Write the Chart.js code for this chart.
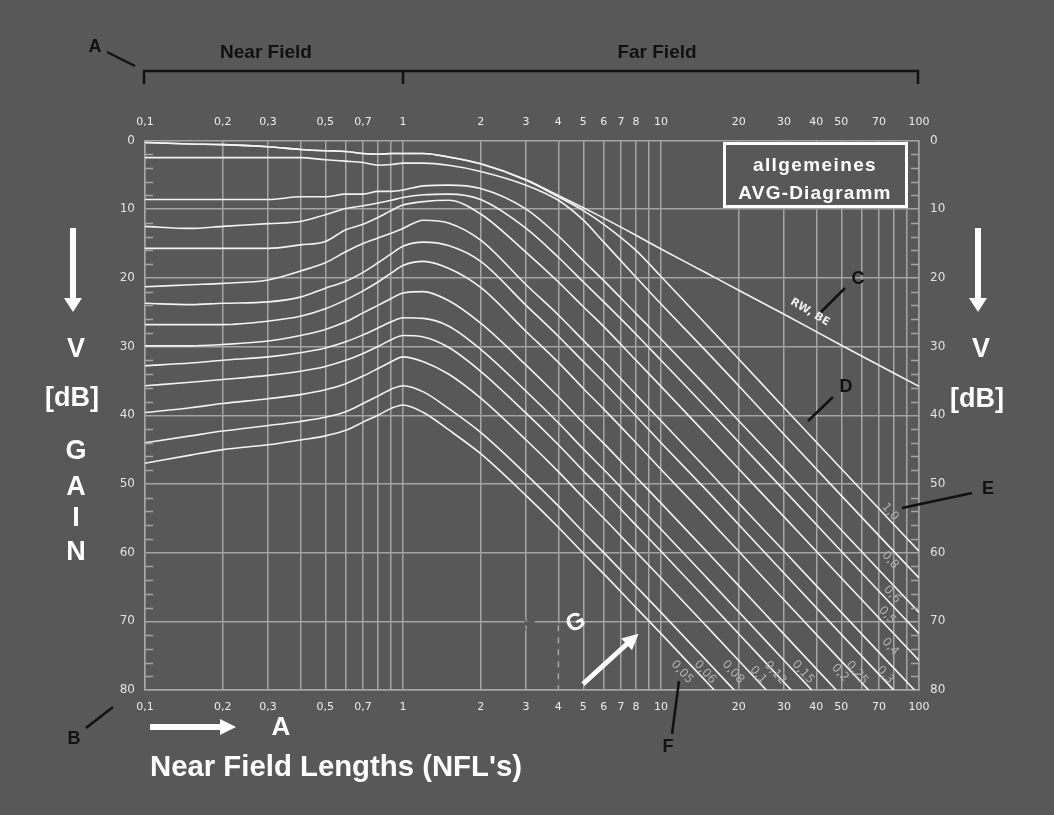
<!DOCTYPE html>
<html><head><meta charset="utf-8">
<script src="https://cdn.jsdelivr.net/npm/chart.js@4/dist/chart.umd.min.js"></script>
<style>html,body{margin:0;padding:0;background:#585858;overflow:hidden}canvas{display:block}</style>
</head><body>
<canvas id="c" width="1054" height="815"></canvas>
<script>
// Distance in near field lengths (NFL's)
const NFL = [0.1,0.15,0.2,0.3,0.4,0.5,0.6,0.7,0.8,0.9,1,1.2,1.5,2,3,4,5,6,8,10,15,20,30,50,100];
// Gain V [dB], one array per curve
const RW_BE = [0.3,0.5,0.6,0.9,1.3,1.5,1.6,1.9,2.0,1.9,1.9,1.9,2.4,3.4,5.7,8.0,9.8,11.3,13.8,15.8,19.3,21.8,25.3,29.8,35.8];
const G_1_0  = [0.3,0.5,0.6,0.9,1.3,1.5,1.6,1.9,2.0,1.9,1.9,1.9,2.4,3.4,5.8,8.2,10.2,12.2,16.0,19.8,26.8,31.8,38.9,47.8,59.8];
const G_0_8  = [2.5,2.5,2.5,2.5,2.5,2.8,3.0,3.2,3.6,3.5,3.3,3.3,3.6,4.5,6.5,8.7,11.6,14.8,19.9,23.8,30.7,35.7,42.8,51.7,63.7];
const G_0_6  = [8.6,8.6,8.6,8.6,8.2,8.2,7.8,7.8,7.4,7.4,7.2,6.6,6.5,7.0,10.0,13.9,17.5,20.4,25.2,28.9,35.8,40.8,47.8,56.7,68.7];
const G_0_5  = [12.5,12.8,12.5,12.1,11.8,10.8,9.9,9.5,9.1,8.7,8.3,7.9,7.8,8.6,12.8,17.0,20.6,23.5,28.2,32.0,38.9,43.9,50.9,59.8,71.8];
const G_0_4  = [15.7,15.7,15.7,15.7,15.2,14.7,13.0,12.2,11.2,10.2,9.4,8.9,8.7,10.7,16.3,20.6,24.2,27.1,32.0,35.8,42.8,47.8,54.8,63.7,75.7];
const G_0_3  = [21.3,21.0,20.8,20.3,19.0,17.8,16.2,15.0,14.2,13.5,12.8,11.6,12.0,14.5,21.0,25.4,29.1,32.1,37.0,40.8,47.8,52.8,59.8,68.7,80.7];
const G_0_25 = [23.7,23.9,23.7,23.5,22.8,21.5,20.5,19.2,17.8,16.5,15.4,14.8,15.3,17.6,24.0,28.5,32.2,35.2,40.1,44.0,50.9,55.9,63.0,71.9,83.9];
const G_0_2  = [26.8,26.8,26.8,26.3,25.6,24.5,23.2,21.9,20.6,19.3,18.2,17.6,18.6,21.4,27.8,32.3,36.1,39.1,44.0,47.9,54.8,59.8,66.9,75.8,87.8];
const G_0_15 = [29.9,29.9,29.7,29.2,28.4,27.5,26.4,25.1,24.0,23.0,22.2,22.0,23.3,26.6,32.7,37.3,41.1,44.1,49.0,52.8,59.8,64.8,71.9,80.8,null];
const G_0_12 = [32.8,32.4,32.0,31.5,30.9,30.2,29.3,28.3,27.3,26.4,25.8,25.9,27.0,30.4,36.5,41.1,44.9,47.9,52.8,56.6,63.6,68.6,75.7,84.6,null];
const G_0_1  = [35.7,35.2,34.8,34.2,33.6,32.9,32.0,31.0,30.0,29.0,28.4,28.6,30.1,33.6,39.7,44.3,48.1,51.1,56.0,59.8,66.8,71.8,78.9,87.8,null];
const G_0_08 = [39.6,38.9,38.3,37.6,37.0,36.3,35.4,34.3,33.2,32.2,31.5,32.2,34.0,37.5,43.6,48.2,52.0,55.0,59.9,63.7,70.7,75.7,82.8,null,null];
const G_0_06 = [44.0,43.0,42.3,41.5,40.9,40.3,39.5,38.3,37.2,36.2,35.7,36.6,39.0,42.5,48.6,53.2,57.0,60.0,64.9,68.7,75.7,80.7,null,null,null];
const G_0_05 = [47.0,45.8,45.0,44.3,43.6,43.0,42.2,41.0,40.0,39.0,38.5,39.6,42.1,45.6,51.7,56.3,60.1,63.1,68.0,71.8,78.8,83.8,null,null,null];

const seriesNames = ['RW, BE','1,0','0,8','0,6','0,5','0,4','0,3','0,25','0,2','0,15','0,12','0,1','0,08','0,06','0,05'];
const seriesData  = [RW_BE,G_1_0,G_0_8,G_0_6,G_0_5,G_0_4,G_0_3,G_0_25,G_0_2,G_0_15,G_0_12,G_0_1,G_0_08,G_0_06,G_0_05];

// Axis ticks
const xGridValues = [0.1,0.2,0.3,0.4,0.5,0.6,0.7,0.8,0.9,1,2,3,4,5,6,7,8,9,10,20,30,40,50,60,70,80,90,100];
const xTickLabels = {0.1:'0,1',0.2:'0,2',0.3:'0,3',0.5:'0,5',0.7:'0,7',1:'1',2:'2',3:'3',4:'4',5:'5',6:'6',7:'7',8:'8',10:'10',20:'20',30:'30',40:'40',50:'50',70:'70',100:'100'};
const yTickValues = [0,10,20,30,40,50,60,70,80];
const yMinorTicks = [2,4,6,8,12,14,16,18,22,24,26,28,32,34,36,38,42,44,46,48,52,54,56,58,62,64,66,68,72,74,76,78];

// Curve label anchors (NFL, dB)
const curveLabelText = ['1,0','0,8','0,6','0,5','0,4','0,3','0,25','0,2','0,15','0,12','0,1','0,08','0,06','0,05'];
const curveLabelNFL  = [77.3,77.3,78.6,75.2,77.3,73.8,57.5,49.4,35.5,27.7,23.8,19.0,14.8,12.05];
const curveLabelDB   = [54.1,61.1,66.1,69.1,73.7,77.8,77.5,77.5,77.4,77.5,77.8,77.4,77.4,77.4];

const BG = '#585858', GRID = '#a4a4a4', LINE = '#f2f2f2', INK = '#111111';

function text(ctx, s, x, y, font, color, align, rot, spacing) {
  ctx.save();
  ctx.font = font; ctx.fillStyle = color; ctx.textAlign = align || 'center'; ctx.textBaseline = 'middle';
  if (spacing) ctx.letterSpacing = spacing;
  ctx.translate(x, y); if (rot) ctx.rotate(rot * Math.PI / 180);
  ctx.fillText(s, 0, 0);
  ctx.restore();
}
function seg(ctx, x1, y1, x2, y2, w, color) {
  ctx.save(); ctx.strokeStyle = color; ctx.lineWidth = w; ctx.lineCap = 'butt';
  ctx.beginPath(); ctx.moveTo(x1, y1); ctx.lineTo(x2, y2); ctx.stroke(); ctx.restore();
}
function downArrow(ctx, x, y1, y2) {
  ctx.save(); ctx.fillStyle = '#ffffff';
  ctx.fillRect(x - 3, y1, 6, y2 - y1 - 12);
  ctx.beginPath(); ctx.moveTo(x - 9, y2 - 14); ctx.lineTo(x + 9, y2 - 14); ctx.lineTo(x, y2); ctx.closePath(); ctx.fill();
  ctx.restore();
}
function rightArrow(ctx, x1, x2, y) {
  ctx.save(); ctx.fillStyle = '#ffffff';
  ctx.fillRect(x1, y - 3, x2 - x1 - 14, 6);
  ctx.beginPath(); ctx.moveTo(x2 - 16, y - 8); ctx.lineTo(x2 - 16, y + 8); ctx.lineTo(x2, y); ctx.closePath(); ctx.fill();
  ctx.restore();
}

const decor = {
  id: 'decor',
  beforeDraw(chart) {
    const c = chart.ctx; c.save(); c.fillStyle = BG; c.fillRect(0, 0, chart.width, chart.height); c.restore();
  },
  afterDatasetsDraw(chart) {
    const c = chart.ctx, xs = chart.scales.x, ys = chart.scales.y, ca = chart.chartArea;
    // minor dB ticks inside both edges
    yMinorTicks.forEach(v => {
      const py = Math.round(ys.getPixelForValue(v)) + 0.5;
      seg(c, ca.left, py, ca.left + 8, py, 1.5, GRID);
      seg(c, ca.right - 8, py, ca.right, py, 1.5, GRID);
    });
    // dashed segment of the 4 NFL line and gap at 3 NFL / 70 dB
    const x3 = xs.getPixelForValue(3), x4 = xs.getPixelForValue(4), y70 = ys.getPixelForValue(70), y80 = ys.getPixelForValue(80);
    seg(c, x4, y70 + 2, x4, y80 - 1, 3, BG);
    c.save(); c.setLineDash([6, 6]); seg(c, x4, y70 + 4, x4, y80 - 1, 1.5, GRID); c.restore();
    seg(c, x3 + 2, y70, x3 + 9, y70, 3, BG);
    seg(c, x3, y70 - 4, x3, y70 + 9, 3, BG);
    c.save(); c.setLineDash([4, 4]); seg(c, x3, y70 - 4, x3, y70 + 9, 1.5, GRID); c.restore();
    // legend box
    c.save(); c.fillStyle = BG; c.fillRect(724, 143, 183, 64);
    c.strokeStyle = '#ffffff'; c.lineWidth = 3; c.strokeRect(724.5, 143.5, 182, 63); c.restore();
    text(c, 'allgemeines', 815, 166, 'bold 19px "Liberation Sans"', '#ffffff', 'center', 0, '1.4px');
    text(c, 'AVG-Diagramm', 815, 194, 'bold 19px "Liberation Sans"', '#ffffff', 'center', 0, '1.2px');
    // curve labels
    for (let i = 0; i < curveLabelText.length; i++) {
      text(c, curveLabelText[i], xs.getPixelForValue(curveLabelNFL[i]), ys.getPixelForValue(curveLabelDB[i]),
           '12px "DejaVu Sans"', '#b0b0b0', 'center', 48);
    }
    text(c, 'RW, BE', xs.getPixelForValue(37.8), ys.getPixelForValue(25.0), 'bold 11px "DejaVu Sans"', '#ececec', 'center', 31);
  },
  afterDraw(chart) {
    const c = chart.ctx;
    // header brackets
    seg(c, 143, 71, 919, 71, 2.5, INK);
    seg(c, 144, 70, 144, 84, 2.5, INK);
    seg(c, 403, 70, 403, 84, 2.5, INK);
    seg(c, 918, 70, 918, 84, 2.5, INK);
    text(c, 'Near Field', 266, 53, 'bold 19px "Liberation Sans"', INK, 'center');
    text(c, 'Far Field', 657, 53, 'bold 19px "Liberation Sans"', INK, 'center');
    // marker letters
    text(c, 'A', 95, 47, 'bold 18px "Liberation Sans"', INK, 'center');
    seg(c, 107, 52, 135, 66, 2.5, INK);
    text(c, 'B', 74, 739, 'bold 18px "Liberation Sans Narrow", "Liberation Sans"', INK, 'center');
    seg(c, 86, 728, 113, 707, 2.5, INK);
    text(c, 'C', 858, 279, 'bold 18px "Liberation Sans"', INK, 'center');
    seg(c, 845, 288, 821, 312, 2.5, INK);
    text(c, 'D', 846, 387, 'bold 18px "Liberation Sans"', INK, 'center');
    seg(c, 833, 397, 808, 421, 2.5, INK);
    text(c, 'E', 988, 489, 'bold 18px "Liberation Sans"', INK, 'center');
    seg(c, 972, 493, 902, 508, 2.5, INK);
    text(c, 'F', 668, 747, 'bold 18px "Liberation Sans"', INK, 'center');
    seg(c, 679, 681, 672, 734, 2.5, INK);
    // left axis title
    downArrow(c, 73, 228, 312);
    text(c, 'V', 76, 350, 'bold 27px "Liberation Sans"', '#ffffff', 'center');
    text(c, '[dB]', 72, 399, 'bold 27px "Liberation Sans"', '#ffffff', 'center');
    ['G','A','I','N'].forEach((ch, i) => text(c, ch, 76, [452, 488, 519, 553][i], 'bold 27px "Liberation Sans"', '#ffffff', 'center'));
    // right axis title
    downArrow(c, 978, 228, 312);
    text(c, 'V', 981, 350, 'bold 27px "Liberation Sans"', '#ffffff', 'center');
    text(c, '[dB]', 977, 400, 'bold 27px "Liberation Sans"', '#ffffff', 'center');
    // bottom title
    rightArrow(c, 150, 236, 727);
    text(c, 'A', 281, 728, 'bold 26px "Liberation Sans"', '#ffffff', 'center');
    c.save();
    c.font = 'bold 30px "Liberation Sans"';
    const w = c.measureText("Near Field Lengths (NFL's)").width;
    c.translate(150, 768); c.scale(372 / w, 1);
    c.fillStyle = '#ffffff'; c.textAlign = 'left'; c.textBaseline = 'middle';
    c.fillText("Near Field Lengths (NFL's)", 0, 0);
    c.restore();
    // G marker and arrow
    text(c, 'G', 576, 623, 'bold 24px "Liberation Sans"', '#ffffff', 'center', -25);
    seg(c, 583, 684, 628, 643, 5, '#ffffff');
    c.save(); c.fillStyle = '#ffffff'; c.translate(637, 635); c.rotate(Math.atan2(-49, 54));
    c.beginPath(); c.moveTo(2, 0); c.lineTo(-14, -8); c.lineTo(-14, 8); c.closePath(); c.fill(); c.restore();
  }
};

const datasets = seriesData.map((d, i) => ({
  label: seriesNames[i],
  data: d.map((v, j) => ({x: NFL[j], y: v})),
  borderColor: LINE, borderWidth: 1.6, pointRadius: 0, fill: false,
  cubicInterpolationMode: 'monotone', spanGaps: false, xAxisID: 'x', yAxisID: 'y'
}));

const tickFont = {family: '"DejaVu Sans", sans-serif', size: 11};
const yFont = {family: '"DejaVu Sans", sans-serif', size: 12};

new Chart(document.getElementById('c'), {
  type: 'line',
  data: {datasets},
  options: {
    responsive: false, animation: false, devicePixelRatio: 1,
    layout: {padding: 0, autoPadding: false},
    plugins: {legend: {display: false}, tooltip: {enabled: false}},
    scales: {
      x: {
        type: 'logarithmic', position: 'bottom', min: 0.1, max: 100,
        afterBuildTicks: s => { s.ticks = xGridValues.map(v => ({value: v})); },
        afterFit: s => { s.height = 125; },
        ticks: {autoSkip: false, maxRotation: 0, minRotation: 0, padding: 11, color: '#ececec', font: tickFont,
                callback: v => xTickLabels[v] !== undefined ? xTickLabels[v] : ''},
        grid: {color: GRID, lineWidth: 1.5, drawTicks: false},
        border: {display: true, color: GRID, width: 1.5}
      },
      x2: {
        type: 'logarithmic', position: 'top', min: 0.1, max: 100,
        afterBuildTicks: s => { s.ticks = xGridValues.map(v => ({value: v})); },
        afterFit: s => { s.height = 140.5; },
        ticks: {autoSkip: false, maxRotation: 0, minRotation: 0, padding: 12, color: '#ececec', font: tickFont,
                callback: v => xTickLabels[v] !== undefined ? xTickLabels[v] : ''},
        grid: {display: false, drawTicks: false},
        border: {display: false}
      },
      y: {
        type: 'linear', position: 'left', reverse: true, min: 0, max: 80,
        afterBuildTicks: s => { s.ticks = yTickValues.map(v => ({value: v})); },
        afterFit: s => { s.width = 145; },
        ticks: {padding: 10, color: '#e2e2e2', font: yFont},
        grid: {color: GRID, lineWidth: 1.5, drawTicks: false},
        border: {display: true, color: GRID, width: 1.5}
      },
      y2: {
        type: 'linear', position: 'right', reverse: true, min: 0, max: 80,
        afterBuildTicks: s => { s.ticks = yTickValues.map(v => ({value: v})); },
        afterFit: s => { s.width = 135; },
        ticks: {padding: 11, color: '#e2e2e2', font: yFont},
        grid: {display: false, drawTicks: false},
        border: {display: true, color: GRID, width: 1.5}
      }
    }
  },
  plugins: [decor]
});
</script>
</body></html>
